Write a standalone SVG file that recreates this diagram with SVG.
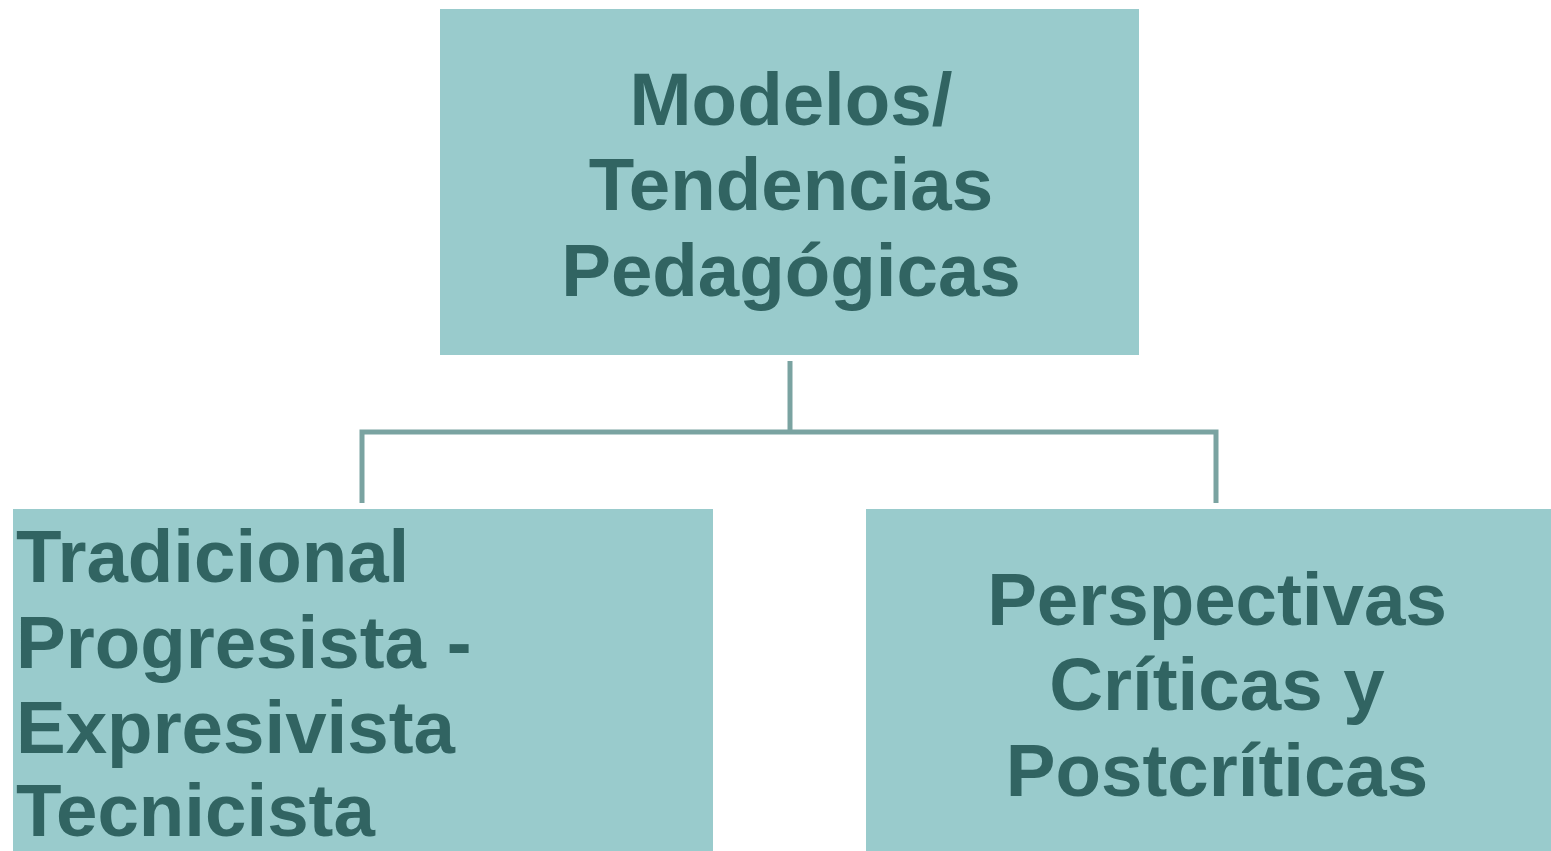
<svg xmlns="http://www.w3.org/2000/svg" width="1551" height="851" viewBox="0 0 1551 851">
<style>
.box{fill:#99cbcc;}
.t{font-family:"Liberation Sans",Arial,sans-serif;font-weight:bold;font-size:74.5px;fill:#316462;}
.c{text-anchor:middle;}
.conn{fill:none;stroke:#7aa3a1;stroke-width:5;}
</style>
<rect width="1551" height="851" fill="#ffffff"/>
<g id="connectors">
<path class="conn" d="M790 361 V432"/>
<path class="conn" d="M362 503 V432 H1216 V503"/>
</g>
<g id="node-top">
<rect class="box" x="440" y="9" width="699" height="346"/>
<text class="t c" x="791" y="125">Modelos/</text>
<text class="t c" x="791" y="210">Tendencias</text>
<text class="t c" x="791" y="296">Pedagógicas</text>
</g>
<g id="node-left">
<rect class="box" x="13" y="509" width="700" height="342"/>
<text class="t" x="16" y="582">Tradicional</text>
<text class="t" x="16" y="668">Progresista -</text>
<text class="t" x="16" y="753">Expresivista</text>
<text class="t" x="16" y="836">Tecnicista</text>
</g>
<g id="node-right">
<rect class="box" x="866" y="509" width="685" height="342"/>
<text class="t c" x="1217" y="625">Perspectivas</text>
<text class="t c" x="1217" y="710">Críticas y</text>
<text class="t c" x="1217" y="796">Postcríticas</text>
</g>
</svg>
